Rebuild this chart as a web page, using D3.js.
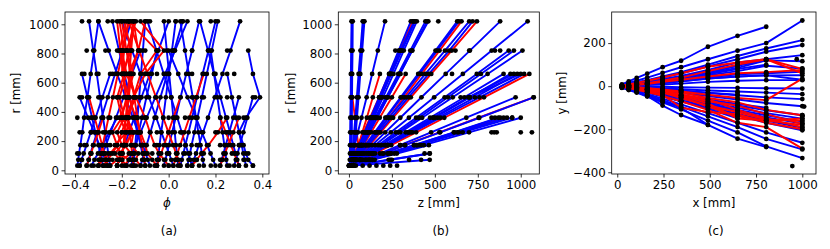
<!DOCTYPE html>
<html>
<head>
<meta charset="utf-8">
<script src="https://cdn.jsdelivr.net/npm/d3@7"></script>
<style>
body { margin: 0; background: #fff; }
svg text { font-family: "DejaVu Sans", sans-serif; fill: #000; }
</style>
</head>
<body>
<svg id="fig" width="830" height="249"></svg>
<script>
'use strict';

// Detector layer radii [mm]
const layerR = [32, 72, 115, 172, 260, 360, 500, 660, 820, 1020];
// x position of each layer in the x-y view [mm]
const cLayerX = [25, 62, 105, 162, 245, 345, 490, 650, 805, 1000];

// (a) phi of each hit, one list per track, layer by layer
const phiBlue = [
    [-0.390, -0.386, -0.383, -0.377, -0.369, -0.361, -0.347, -0.333, -0.318, -0.300],
    [-0.280, -0.286, -0.292, -0.300, -0.313, -0.327, -0.347, -0.370],
    [-0.080, -0.089, -0.098, -0.111, -0.131, -0.153, -0.184, -0.220, -0.256, -0.300],
    [-0.350, -0.342, -0.334, -0.323, -0.306, -0.287, -0.260, -0.229, -0.198, -0.160],
    [0.020, 0.011, 0.002, -0.011, -0.031, -0.053, -0.084, -0.120, -0.156, -0.200],
    [-0.220, -0.211, -0.202, -0.189, -0.169, -0.147, -0.116, -0.080, -0.044, 0.000],
    [-0.150, -0.148, -0.146, -0.143, -0.138, -0.133, -0.126, -0.118, -0.110, -0.100],
    [-0.300, -0.291, -0.281, -0.268, -0.248, -0.225, -0.193, -0.157, -0.120],
    [0.100, 0.092, 0.084, 0.073, 0.056, 0.037, 0.010, -0.021, -0.052, -0.090],
    [-0.050, -0.047, -0.043, -0.039, -0.032, -0.023, -0.012, 0.001, 0.014, 0.030],
    [-0.120, -0.113, -0.105, -0.094, -0.078, -0.060, -0.035, -0.006, 0.024, 0.060],
    [0.080, 0.085, 0.091, 0.098, 0.110, 0.123, 0.142, 0.163, 0.184, 0.210],
    [0.100, 0.108, 0.117, 0.129, 0.147, 0.168, 0.197, 0.230, 0.264, 0.305],
    [0.300, 0.293, 0.286, 0.276, 0.262, 0.245, 0.221, 0.194, 0.168, 0.134],
    [0.360, 0.340, 0.330, 0.320, 0.300, 0.330, 0.390, 0.360, 0.340],
    [0.220, 0.227, 0.234, 0.244, 0.259, 0.276, 0.300],
    [0.330, 0.325, 0.319, 0.312, 0.301, 0.288, 0.270, 0.250],
    [-0.180, -0.170, -0.158, -0.143, -0.120, -0.094, -0.057, -0.015, 0.027, 0.080],
    [0.040, 0.038, 0.035, 0.031, 0.026, 0.020, 0.012, 0.002, -0.008, -0.020],
    [-0.380, -0.372, -0.363, -0.351, -0.333, -0.312, -0.283, -0.250],
    [-0.260, -0.270, -0.281, -0.296, -0.318, -0.344, -0.380],
    [0.150, 0.146, 0.142, 0.136, 0.127, 0.117, 0.103, 0.086, 0.070, 0.050],
    [-0.100, -0.106, -0.112, -0.120, -0.132, -0.146, -0.166, -0.189, -0.212, -0.240],
    [0.250, 0.246, 0.243, 0.238, 0.230, 0.221, 0.208, 0.194, 0.180],
    [-0.020, -0.014, -0.007, 0.001, 0.015, 0.030, 0.051, 0.075, 0.100, 0.130],
    [-0.330, -0.317, -0.302, -0.283, -0.254, -0.220],
    [0.280, 0.287, 0.294, 0.304, 0.319, 0.336, 0.360],
    [-0.160, -0.154, -0.148, -0.140, -0.128, -0.114, -0.095, -0.072, -0.050],
    [-0.250, -0.254, -0.258, -0.263, -0.271, -0.280, -0.293, -0.307, -0.322, -0.340],
    [0.200, 0.190, 0.179, 0.164, 0.142, 0.117, 0.081, 0.041, 0.000],
    [0.050, 0.056, 0.063, 0.071, 0.085, 0.100, 0.121, 0.145, 0.170, 0.200]
];
const phiRed = [
    [-0.25, -0.22, -0.20, -0.23, -0.18, -0.21, -0.17, -0.20, -0.16, -0.19],
    [-0.100, -0.104, -0.108, -0.114, -0.123, -0.133, -0.147, -0.164, -0.180, -0.200],
    [-0.300, -0.295, -0.289, -0.282, -0.270, -0.257, -0.238, -0.217, -0.196, -0.170],
    [-0.18, -0.20, -0.16, -0.19, -0.15, -0.18, -0.14, -0.17, -0.13, -0.15],
    [0.050, 0.041, 0.032, 0.019, -0.001, -0.023, -0.054, -0.090, -0.126, -0.170],
    [-0.22, -0.21, -0.20, -0.19, -0.18, -0.17, -0.15, -0.12, -0.05, -0.17],
    [0.300, 0.290, 0.280, 0.266, 0.244, 0.220],
    [0.220, 0.230, 0.240, 0.254, 0.276, 0.300],
    [-0.350, -0.341, -0.332, -0.320, -0.301, -0.280],
    [-0.050, -0.042, -0.032, -0.020, -0.001, 0.020, 0.050],
    [0.020, 0.028, 0.037, 0.049, 0.067, 0.088, 0.117, 0.150],
    [-0.260, -0.267, -0.274, -0.284, -0.299, -0.316, -0.340],
    [-0.200, -0.198, -0.196, -0.193, -0.188, -0.183, -0.176, -0.168, -0.160, -0.150],
    [-0.150, -0.153, -0.156, -0.160, -0.166, -0.173, -0.183, -0.195, -0.206, -0.220],
    [-0.30, -0.28, -0.25, -0.22, -0.20, -0.18, -0.15, -0.10, -0.02, -0.12],
    [0.10, 0.12, 0.14, 0.17, 0.21, 0.25],
    [-0.22, -0.21, -0.23, -0.20, -0.22, -0.19, -0.21, -0.18, -0.20, -0.17],
    [-0.12, -0.14, -0.13, -0.16, -0.15, -0.18, -0.17, -0.20, -0.19, -0.21],
    [-0.28, -0.26, -0.24, -0.22, -0.24, -0.20, -0.22, -0.19, -0.17, -0.15],
    [-0.05, -0.07, -0.09, -0.10, -0.12, -0.14, -0.17, -0.16, -0.13, -0.10],
    [0.00, -0.02, -0.04, -0.06, -0.08, -0.10, -0.14, -0.18, -0.21, -0.18],
    [-0.19, -0.17, -0.21, -0.18, -0.16, -0.20, -0.18, -0.15, -0.18, -0.14]
];
// (a) hits not on any drawn edge: [phi, r]
const phiExtra = [
    [-0.37, 1020], [-0.26, 1020], [-0.08, 1020], [0.03, 1020], [0.06, 1020], [0.18, 1020],
    [-0.35, 820], [-0.27, 820], [-0.22, 820], [-0.18, 820], [-0.10, 820], [0.02, 820], [0.10, 820], [0.25, 820],
    [-0.36, 660], [-0.30, 660], [-0.24, 660], [-0.10, 660], [-0.05, 660], [0.10, 660], [0.20, 660], [0.28, 660],
    [-0.37, 500], [-0.30, 500], [-0.22, 500], [-0.12, 500], [0.10, 500], [0.15, 500], [0.25, 500], [0.37, 500],
    [-0.39, 360], [-0.33, 360], [-0.25, 360], [-0.17, 360], [-0.10, 360], [0.00, 360], [0.07, 360], [0.32, 360],
    [-0.38, 260], [-0.33, 260], [-0.28, 260], [-0.20, 260], [-0.15, 260], [-0.05, 260], [0.05, 260], [0.20, 260], [0.25, 260],
    [-0.36, 172], [-0.25, 172], [-0.15, 172], [-0.05, 172], [0.12, 172], [0.22, 172], [0.30, 172],
    [-0.39, 115], [-0.33, 115], [-0.27, 115], [-0.17, 115], [-0.07, 115], [0.00, 115], [0.07, 115], [0.15, 115], [0.27, 115], [0.34, 115],
    [-0.37, 72], [-0.30, 72], [-0.24, 72], [-0.16, 72], [-0.05, 72], [0.03, 72], [0.12, 72], [0.22, 72], [0.32, 72],
    [-0.38, 32], [-0.32, 32], [-0.27, 32], [-0.22, 32], [-0.14, 32], [-0.06, 32], [0.00, 32], [0.08, 32],
    [0.13, 32], [0.18, 32], [0.26, 32], [0.30, 32], [0.36, 32]
];

// (b) z of each hit [mm], one list per track, layer by layer
const zBlue = [
    [10, 10, 11, 11, 12, 13, 14, 15, 16, 18],
    [15, 15, 16, 16, 17, 17, 18, 19, 21, 22],
    [5, 5, 6, 6, 7, 8, 10, 11, 13, 15],
    [20, 23, 25, 29, 35, 42, 51, 61, 72, 85],
    [25, 28, 30, 34, 40, 47, 56, 66, 77, 90],
    [15, 18, 20, 24, 30, 37, 46, 56, 67, 80],
    [5, 13, 22, 34, 52, 73, 103, 135, 168, 210],
    [10, 24, 39, 60, 91, 126, 176, 233, 289, 360],
    [5, 20, 37, 59, 93, 130, 185, 247, 308, 385],
    [20, 35, 52, 73, 107, 144, 198, 259, 319, 395],
    [25, 39, 57, 76, 106, 139, 186, 242, 299, 380],
    [10, 27, 47, 72, 110, 154, 216, 287, 357, 445],
    [20, 37, 57, 82, 120, 164, 226, 297, 367, 455],
    [0, 18, 39, 66, 107, 153, 219, 294, 369, 462],
    [10, 29, 48, 75, 115, 161, 226, 300],
    [10, 35, 63, 100, 155, 218, 308, 411, 513, 640],
    [5, 30, 58, 94, 150, 212, 301, 403, 504, 630],
    [10, 39, 70, 112, 176, 246, 346, 465, 583, 720],
    [0, 28, 59, 99, 162, 232, 332, 445, 559, 700],
    [10, 45, 83, 134, 211, 299, 422, 563, 704, 880],
    [5, 46, 92, 152, 244, 349, 496, 663, 831, 1040],
    [10, 61, 115, 188, 299, 426, 604, 807, 1010],
    [15, 63, 114, 183, 288, 408, 576, 768, 960],
    [5, 52, 102, 170, 273, 391, 557, 744, 930],
    [5, 62, 123, 205, 330, 472, 672, 900],
    [10, 72, 138, 226, 362, 516, 733, 980],
    [0, 65, 135, 227, 370, 532, 760, 1020],
    [20, 79, 141, 224, 354, 500, 705, 940],
    [12, 70, 132, 215, 345, 490, 695, 960],
    [8, 66, 130, 214, 344, 492, 700, 1000],
    [10, 92, 180, 297, 478, 683, 970],
    [15, 105, 202, 327, 531, 759, 1075],
    [10, 116, 230, 381, 615, 880],
    [5, 120, 244, 408, 662, 950],
    [15, 135, 264, 436, 699, 1000],
    [12, 122, 240, 395, 640, 920],
    [8, 112, 225, 378, 610, 870],
    [10, 231, 470],
    [20, 470],
    [5, 137, 279, 465],
    [30, 241, 470]
];
const zRed = [
    [30, 40, 50, 55, 45, 35, 20],
    [15, 29, 45, 66, 98, 134, 185, 244, 302, 375],
    [0, 15, 31, 53, 85, 123, 175, 235, 295, 370],
    [20, 30, 41, 56, 78, 104, 139, 180],
    [15, 35, 57, 85, 129, 179, 250, 330],
    [20, 45, 73, 110, 167, 231, 321, 424, 527, 655],
    [15, 44, 76, 120, 184, 257, 360, 479, 598, 745],
    [15, 81, 152, 246, 391, 555, 786, 1050],
    [5, 96, 194, 324, 526, 755, 1075],
    [20, 127, 243, 396, 632, 900]
];
// (b) hits not on any drawn edge: [z, r]
const zExtra = [
    [520, 1020], [830, 260], [845, 260], [860, 260], [1000, 260], [1065, 260],
    [830, 360], [850, 360], [950, 360], [40, 32], [80, 32], [120, 32], [160, 32],
    [200, 32], [240, 32], [280, 32], [100, 72], [150, 72], [250, 72], [350, 72],
    [420, 72], [440, 115], [300, 172], [420, 172], [270, 820], [300, 820],
    [620, 820], [700, 820], [850, 820], [880, 820], [600, 660], [650, 500], [700, 500]
];

// (c) y of each hit [mm], one list per track, layer by layer
const yBlue = [
    [8, 22, 38, 58, 88, 118, 183, 234, 276],
    [5, 15, 25, 40, 62, 88, 125, 165, 200, 305],
    [3, 10, 18, 28, 45, 65, 100, 140, 175, 214],
    [2, 8, 15, 25, 40, 58, 92, 125, 160, 191],
    [2, 7, 13, 20, 33, 48, 75, 110, 125, 144],
    [1, 5, 10, 16, 26, 38, 60, 85, 120, 116],
    [0, 4, 8, 12, 20, 30, 50, 70, 95, 82],
    [1, 4, 7, 10, 17, 25, 40, 55, 60, 67],
    [0, 3, 5, 9, 14, 22, 35, 45, 50, 51],
    [0, 2, 3, 5, 8, 12, 20, 25, 28, 28],
    [0, 0, -1, -2, -3, -5, -7, -8, -10, -11],
    [0, -2, -4, -6, -10, -14, -20, -25, -30, -37],
    [-1, -4, -8, -14, -22, -32, -46, -62, -78, -93],
    [-2, -6, -12, -20, -32, -46, -68, -90, -112, -135],
    [-2, -7, -13, -22, -36, -52, -75, -100, -125, -151],
    [-3, -8, -15, -25, -40, -58, -85, -115, -145, -174],
    [-3, -9, -17, -28, -45, -65, -95, -128, -160, -193],
    [-4, -10, -19, -30, -48, -70, -100, -135, -170, -205],
    [-5, -13, -23, -37, -58, -85, -125, -170, -215, -263],
    [-6, -15, -26, -42, -65, -95, -140, -190, -245, -294],
    [-8, -18, -30, -48, -75, -108, -160, -215, -280, -334],
    [-6, -16, -28, -45, -70, -100, -180, -244, -283],
    [-4, -12, -25, -45, -90, -134, -180],
    [1, 6, 12, 19, 30, 45, 70, 95, 120],
    [1, 4, 9, 15, 25, 38, 62, 95],
    [0, -3, -6, -9, -15, -22, -32, -42, -52, -60],
    [-1, -5, -10, -17, -28, -42, -62, -82, -100],
    [-2, -8, -15, -26, -45, -70, -105, -150],
    [0, 2, 5, 8, 14, 22, 35, 45, 50, 30],
    [-2, -6, -12, -20, -32, -50, -80, -110, -135, -165],
    [2, 5, 10, 15, 25, 38, 55, 80, 100],
    [0, -2, -5, -8, -13, -20, -30, -40]
];
const yRed = [
    [2, 8, 15, 25, 40, 60, 90, 110, 125, 80],
    [0, -3, -8, -15, -25, -40, -60, -110, -150, -190],
    [-1, -4, -9, -16, -28, -50, -95, -140, -160, -150],
    [0, -3, -7, -12, -22, -40, -70, -90, -130, -175],
    [0, -2, -5, -9, -15, -25, -40, -55, -65, 35],
    [-3, -9, -17, -28, -45, -70, -110, -170, -190, -290],
    [1, 4, 8, 14, 25, 40, 70, 100, 125, 60],
    [0, 3, 6, 10, 20, 30, 45, 60, 65, 75],
    [-2, -6, -12, -22, -40, -100, -120, -130, -170, -200],
    [-1, -3, -6, -10, -18, -30, -55, -75, -110, -135],
    [-1, -4, -8, -14, -25, -45, -80, -150, -160, -180],
    [-2, -5, -10, -18, -30, -55, -90, -120, -155, -160]
];
// (c) hits not on any drawn edge: [x, y]
const xyExtra = [[946, -371], [1000, -140], [1010, -95], [970, 125], [650, -30], [490, -20], [345, -20]];

// Tick values
const rTicks = [0, 200, 400, 600, 800, 1000];
const phiTicks = [-0.4, -0.2, 0.0, 0.2, 0.4];
const mmTicks = [0, 250, 500, 750, 1000];
const yTicks = [-400, -200, 0, 200];

const svg = d3.select("#fig");
const fontSize = 11.8;
const edgeWidth = 1.9;

// turn per-layer lists into point lists
const byLayerR = (list) => list.map((v, i) => [v, layerR[i]]);
const byLayerX = (list) => list.map((v, i) => [cLayerX[i], v]);

const panels = [
    {
        id: "a", left: 65, right: 269, top: 12, bottom: 174,
        xDomain: [-0.4427, 0.4286], yDomain: [-25.3, 1084.2],
        xTicks: phiTicks, yTicks: rTicks, xFormat: d3.format(".1f"),
        xLabel: "ϕ", xItalic: true, yLabel: "r [mm]", yLabelX: 20, caption: "(a)",
        first: phiBlue.map(byLayerR), firstColor: "#0000ff",
        second: phiRed.map(byLayerR), secondColor: "#ff0000",
        extra: phiExtra
    },
    {
        id: "b", left: 338.3, right: 539.3, top: 12, bottom: 174,
        xDomain: [-62, 1108], yDomain: [-25.3, 1084.2],
        xTicks: mmTicks, yTicks: rTicks, xFormat: d3.format("d"),
        xLabel: "z [mm]", yLabel: "r [mm]", yLabelX: 295, caption: "(b)",
        first: zRed.map(byLayerR), firstColor: "#ff0000",
        second: zBlue.map(byLayerR), secondColor: "#0000ff",
        extra: zExtra
    },
    {
        id: "c", left: 611.7, right: 816, top: 12, bottom: 174,
        xDomain: [-30, 1074], yDomain: [-408, 344.5],
        xTicks: mmTicks, yTicks: yTicks, xFormat: d3.format("d"),
        xLabel: "x [mm]", yLabel: "y [mm]", yLabelX: 566, caption: "(c)",
        first: yBlue.map(byLayerX), firstColor: "#0000ff",
        second: yRed.map(byLayerX), secondColor: "#ff0000",
        extra: xyExtra
    }
];

panels.forEach(drawPanel);

// Draws one panel: edges, hits, frame, axes and labels
function drawPanel(p) {
    const x = d3.scaleLinear().domain(p.xDomain).range([p.left, p.right]);
    const y = d3.scaleLinear().domain(p.yDomain).range([p.bottom, p.top]);
    const g = svg.append("g");

    g.append("clipPath").attr("id", "clip-" + p.id)
        .append("rect")
        .attr("x", p.left).attr("y", p.top)
        .attr("width", p.right - p.left).attr("height", p.bottom - p.top);

    const plot = g.append("g").attr("clip-path", "url(#clip-" + p.id + ")");
    const line = d3.line().x(d => x(d[0])).y(d => y(d[1]));

    plot.append("g").selectAll("path")
        .data(p.first).enter().append("path")
        .attr("d", line).attr("fill", "none")
        .attr("stroke", p.firstColor).attr("stroke-width", edgeWidth)
        .attr("stroke-linejoin", "round");
    plot.append("g").selectAll("path")
        .data(p.second).enter().append("path")
        .attr("d", line).attr("fill", "none")
        .attr("stroke", p.secondColor).attr("stroke-width", edgeWidth)
        .attr("stroke-linejoin", "round");

    const hits = p.first.flat().concat(p.second.flat(), p.extra);
    plot.append("g").selectAll("circle")
        .data(hits).enter().append("circle")
        .attr("cx", d => x(d[0])).attr("cy", d => y(d[1]))
        .attr("r", 2.4).attr("fill", "#000");

    // frame
    g.append("rect")
        .attr("x", p.left).attr("y", p.top)
        .attr("width", p.right - p.left).attr("height", p.bottom - p.top)
        .attr("fill", "none").attr("stroke", "#000").attr("stroke-width", 0.8);

    const xAxis = g.append("g")
        .attr("transform", "translate(0," + p.bottom + ")")
        .call(d3.axisBottom(x).tickValues(p.xTicks).tickFormat(p.xFormat)
            .tickSize(3.5).tickSizeOuter(0).tickPadding(3.5));
    const yAxis = g.append("g")
        .attr("transform", "translate(" + p.left + ",0)")
        .call(d3.axisLeft(y).tickValues(p.yTicks).tickFormat(d3.format("d"))
            .tickSize(3.5).tickSizeOuter(0).tickPadding(2.5));
    [xAxis, yAxis].forEach(a => {
        a.select(".domain").remove();
        a.selectAll("line").attr("stroke", "#000").attr("stroke-width", 0.8);
        a.selectAll("text").attr("font-family", "DejaVu Sans").attr("font-size", fontSize).attr("fill", "#000");
    });

    const cx = (p.left + p.right) / 2;
    g.append("text")
        .attr("x", cx).attr("y", 207)
        .attr("text-anchor", "middle")
        .attr("font-size", fontSize)
        .style("font-style", p.xItalic ? "italic" : "normal")
        .text(p.xLabel);
    g.append("text")
        .attr("transform", "translate(" + p.yLabelX + "," + ((p.top + p.bottom) / 2) + ")rotate(-90)")
        .attr("text-anchor", "middle")
        .attr("font-size", fontSize)
        .text(p.yLabel);
    g.append("text")
        .attr("x", cx + 2).attr("y", 235)
        .attr("text-anchor", "middle")
        .attr("font-size", fontSize)
        .text(p.caption);
}
</script>
</body>
</html>
